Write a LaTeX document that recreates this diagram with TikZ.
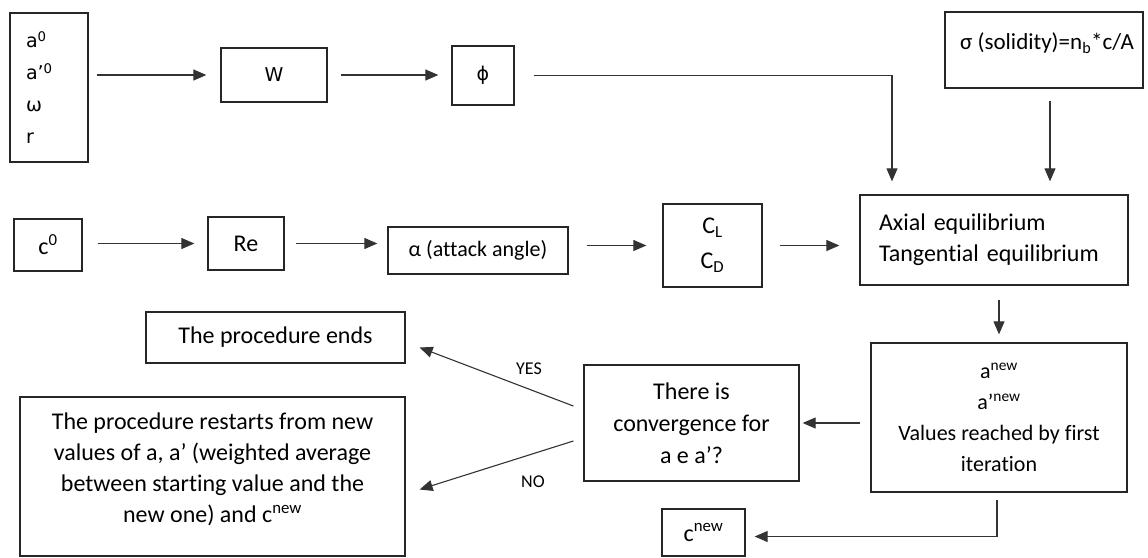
\documentclass[tikz,border=0pt]{standalone}
\usepackage{fontspec}
\setmainfont{Carlito}[Ligatures=NoCommon]
\newfontfamily\dejavu{DejaVu Sans}
\usetikzlibrary{arrows.meta,calc}
\begin{document}
\begin{tikzpicture}[x=1pt,y=-1pt,
  box/.style={draw=black!85, line width=1.3pt, inner sep=0pt, align=center, font=\fontsize{24}{31}\selectfont},
  arr/.style={draw=black!80, line width=1.1pt, -{Triangle[length=13pt,width=11pt]}},
  lbl/.style={font=\fontsize{18}{21}\selectfont}]
\fill[white] (0,0) rectangle (1148,557);
\useasboundingbox (0,0) rectangle (1148,557);

% top row
\node[box, minimum width=78pt, minimum height=149pt, text width=46pt, align=left, font=\dejavu\fontsize{19}{32}\selectfont] (init) at (49,87.5) {a\textsuperscript{0}\\a’\textsuperscript{0}\\ω\\r};
\node[box, minimum width=106pt, minimum height=54pt, font=\dejavu\fontsize{19}{24}\selectfont] (W) at (274,75) {W};
\node[box, minimum width=62pt, minimum height=59pt, font=\dejavu\fontsize{19}{24}\selectfont] (phi) at (483,75.5) {ϕ};
\node[box, minimum width=198pt, minimum height=76pt] (sig) at (1044,50) {};
\node[font=\fontsize{23}{28}\selectfont] (sigtxt) at (1047,43) {σ (solidity)=n\textsubscript{b}*c/A};

% middle row
\node[box, minimum width=268pt, minimum height=90pt, text width=230pt, align=left] (axial) at (994,240) {Axial equilibrium\\Tangential equilibrium};
\node[box, minimum width=68pt, minimum height=52pt] (c0) at (48,245) {c\textsuperscript{0}};
\node[box, minimum width=76pt, minimum height=53pt] (Re) at (246,243.5) {Re};
\node[box, minimum width=180pt, minimum height=47pt, font=\fontsize{22}{28}\selectfont] (alpha) at (478,250.5) {α (attack angle)};
\node[box, minimum width=99pt, minimum height=83pt, font=\fontsize{24}{35}\selectfont] (CL) at (712.5,245.5) {C\textsubscript{L}\\C\textsubscript{D}};

% bottom
\node[box, minimum width=259pt, minimum height=51pt] (ends) at (275.5,337.5) {The procedure ends};
\node[box, minimum width=385pt, minimum height=159pt] (restart) at (212.5,476.5) {};
\node[align=center, font=\fontsize{24}{31}\selectfont] (restarttxt) at (212.5,469) {The procedure restarts from new\\values of a, a’ (weighted average\\between starting value and the\\new one) and c\textsuperscript{new}};
\node[box, minimum width=215pt, minimum height=116pt, font=\fontsize{24}{32}\selectfont] (conv) at (691.5,423) {There is\\convergence for\\a e a’?};
\node[box, minimum width=256pt, minimum height=149pt, font=\fontsize{22}{31}\selectfont] (anew) at (999,417.5) {a\textsuperscript{new}\\a’\textsuperscript{new}\\Values reached by first\\iteration};
\node[box, minimum width=83pt, minimum height=47pt] (cnew) at (703.5,532.5) {c\textsuperscript{new}};

\node[lbl] (yes) at (529,369) {YES};
\node[lbl] (no) at (533,482) {NO};

% connectors
\draw[arr, shorten <=8pt, shorten >=14pt] (init.east |- W.west) -- (W.west);
\draw[arr, shorten <=13pt, shorten >=13pt] (W.east) -- (W.east -| phi.west);
\draw[arr, shorten <=19pt, shorten >=13pt] (phi.east) -| ($(axial.north)+(-102,0)$);
\draw[arr, shorten <=12pt, shorten >=13pt] ($(sig.south)+(6,0)$) -- ($(sig.south |- axial.north)+(6,0)$);
\draw[arr, shorten <=15pt, shorten >=13pt] (c0.east |- Re.west) -- (Re.west);
\draw[arr, shorten <=11pt, shorten >=10pt] (Re.east) -- (Re.east -| alpha.west);
\draw[arr, shorten <=18pt, shorten >=16pt] (CL.west -| alpha.east) -- (CL.west);
\draw[arr, shorten <=17pt, shorten >=20pt] (CL.east) -- (CL.east -| axial.west);
\draw[arr, shorten <=14pt, shorten >=8pt] (anew.north |- axial.south) -- (anew.north);
\draw[arr, shorten <=10pt, shorten >=3pt] (conv.east -| anew.west) -- (conv.east);
\draw[arr] ($(conv.west)+(-10,-17)$) -- ($(ends.east)+(14,10)$);
\draw[arr] ($(conv.west)+(-10,18)$) -- ($(restart.east)+(14,13)$);
\draw[arr] ($(anew.south)+(-2,7)$) |- ($(cnew.east)+(9,4)$);
\end{tikzpicture}
\end{document}
